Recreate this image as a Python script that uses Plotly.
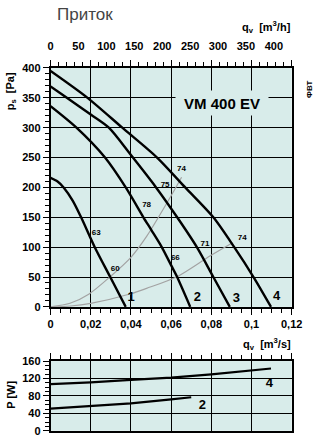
import plotly.graph_objects as go

W, H = 325, 441
BG = "#d8ecea"
FONT = "Liberation Sans"

# ---------------- data ----------------
# fan curves: q_v [m3/s] vs p_s [Pa]
c1_q = [0, 0.0035, 0.0065, 0.011, 0.0152, 0.022, 0.0297, 0.0374]
c1_p = [216, 210, 200, 178, 150, 100, 50, 0]
c2_q = [0, 0.0129, 0.0271, 0.0374, 0.0462, 0.0501, 0.0552, 0.0601, 0.0627, 0.0695]
c2_p = [336, 300, 250, 200, 150, 129, 101, 69, 52, 0]
c3_q = [0, 0.0081, 0.02, 0.029, 0.0398, 0.0525, 0.063, 0.0728, 0.081, 0.0892]
c3_p = [369, 350, 322, 300, 255, 200, 150, 100, 50, 0]
c4_q = [0, 0.0184, 0.0357, 0.053, 0.067, 0.081, 0.0914, 0.101, 0.1097]
c4_p = [395, 350, 300, 250, 200, 150, 100, 50, 0]

# system (efficiency) curves, grey
gA_q = [0, 0.0097, 0.0192, 0.0295, 0.04, 0.0478, 0.06, 0.0652]
gA_p = [0, 6, 21.7, 50, 83, 118, 186, 217]
gB_q = [0, 0.01, 0.02, 0.04, 0.0478, 0.0629, 0.0795, 0.0906]
gB_p = [0, 1.5, 6, 22, 31, 50.5, 85.7, 107.5]

# efficiency labels
eff_text = ["63", "60", "78", "75", "74", "66", "71", "74"]
eff_q = [0.0227, 0.0322, 0.0478, 0.0570, 0.0652, 0.0621, 0.0768, 0.0954]
eff_p = [124, 63, 170, 204, 230, 81, 106, 116]

# curve numbers
num_text = ["1", "2", "3", "4"]
num_q = [0.0401, 0.0731, 0.0925, 0.1125]
num_p = [15, 15, 13.5, 17]

# power curves: q_v [m3/s] vs P [W]
pw4_q = [0, 0.02, 0.04, 0.06, 0.08, 0.1, 0.1097]
pw4_P = [107, 111, 117, 122, 129.5, 138, 143]
pw2_q = [0, 0.02, 0.04, 0.06, 0.07]
pw2_P = [51, 57, 63, 72, 77]
pw_lab_text = ["4", "2"]
pw_lab_q = [0.1089, 0.0755]
pw_lab_P = [108, 57]

# axes
x_ticks = [0, 0.02, 0.04, 0.06, 0.08, 0.1, 0.12]
x_ticktext = ["0", "0,02", "0,04", "0,06", "0,08", "0,1", "0,12"]
xh_ticks = [0, 50, 100, 150, 200, 250, 300, 350, 400]

# ---------------- layout geometry ----------------
def px_x(p):
    return p / W
def px_y(p):
    return 1 - p / H

XD = [px_x(49.7), px_x(301.7)]
YD_MAIN = [px_y(309.3), px_y(63.7)]
YD_POW = [px_y(436.7), px_y(365)]

fig = go.Figure()

def curve(q, p, xa, ya, color, width):
    fig.add_trace(go.Scatter(x=q, y=p, mode="lines", xaxis=xa, yaxis=ya,
                             line=dict(color=color, width=width, shape="spline", smoothing=0.8),
                             hoverinfo="skip", showlegend=False))

curve(gA_q, gA_p, "x", "y", "#a3a3a3", 1.2)
curve(gB_q, gB_p, "x", "y", "#a3a3a3", 1.2)
for q, p in [(c1_q, c1_p), (c2_q, c2_p), (c3_q, c3_p), (c4_q, c4_p)]:
    curve(q, p, "x", "y", "black", 2.4)

fig.add_trace(go.Scatter(x=eff_q, y=eff_p, text=eff_text, mode="text", xaxis="x", yaxis="y",
                         textfont=dict(family=FONT, size=8, color="black", weight="bold"),
                         hoverinfo="skip", showlegend=False))
fig.add_trace(go.Scatter(x=num_q, y=num_p, text=num_text, mode="text", xaxis="x", yaxis="y",
                         textfont=dict(family=FONT, size=13, color="black", weight="bold"),
                         hoverinfo="skip", showlegend=False))

for q, P in [(pw4_q, pw4_P), (pw2_q, pw2_P)]:
    fig.add_trace(go.Scatter(x=q, y=P, mode="lines", xaxis="x4", yaxis="y2",
                             line=dict(color="black", width=2.2),
                             hoverinfo="skip", showlegend=False))
fig.add_trace(go.Scatter(x=pw_lab_q, y=pw_lab_P, text=pw_lab_text, mode="text", xaxis="x4", yaxis="y2",
                         textfont=dict(family=FONT, size=13, color="black", weight="bold"),
                         hoverinfo="skip", showlegend=False))

# dummy traces to activate overlay axes
fig.add_trace(go.Scatter(x=[None], y=[None], xaxis="x2", yaxis="y", showlegend=False, hoverinfo="skip"))
fig.add_trace(go.Scatter(x=[None], y=[None], xaxis="x3", yaxis="y", showlegend=False, hoverinfo="skip"))

tickfont = dict(family=FONT, size=11, color="black", weight="bold")

fig.update_layout(
    width=W, height=H, margin=dict(l=0, r=0, t=0, b=0),
    paper_bgcolor="white", plot_bgcolor=BG, showlegend=False,
    separators=", ",
    xaxis=dict(domain=XD, range=[0, 0.12], anchor="y", tickvals=x_ticks, ticktext=x_ticktext,
               ticks="outside", ticklen=6, tickwidth=1.3, tickcolor="black",
               minor=dict(dtick=0.005, tick0=0, ticks="outside", ticklen=4, tickcolor="black", showgrid=False),
               showgrid=True, gridcolor="black", gridwidth=1.3, showline=True, linecolor="black",
               linewidth=1.5, zeroline=False, tickfont=tickfont, fixedrange=True),
    xaxis2=dict(domain=XD, range=[0, 0.12], anchor="y", overlaying="x", side="top",
                dtick=0.02, tick0=0, ticks="outside", ticklen=6, tickwidth=1.3, tickcolor="black",
                minor=dict(dtick=0.004, tick0=0, ticks="outside", ticklen=4, tickcolor="black", showgrid=False),
                showticklabels=False, showgrid=False, showline=True, linecolor="black", linewidth=1.5,
                zeroline=False),
    xaxis3=dict(domain=XD, range=[0, 0.12 * 3600], anchor="y", overlaying="x", side="top",
                tickvals=xh_ticks, ticks="outside", ticklen=13, tickcolor="rgba(0,0,0,0)",
                showgrid=False, showline=False, zeroline=False, tickfont=tickfont),
    yaxis=dict(domain=YD_MAIN, range=[0, 400], anchor="x", dtick=50, tick0=0,
               ticks="outside", ticklen=6, tickwidth=1.3, tickcolor="black",
               minor=dict(dtick=10, tick0=0, ticks="outside", ticklen=4, tickcolor="black", showgrid=False),
               showgrid=True, gridcolor="black", gridwidth=1.3, showline=True, mirror=True,
               linecolor="black", linewidth=1.5, zeroline=False, tickfont=tickfont),
    xaxis4=dict(domain=XD, range=[0, 0.12], anchor="y2", side="top", dtick=0.02, tick0=0,
                ticks="outside", ticklen=6, tickwidth=1.3, tickcolor="black",
                minor=dict(dtick=0.005, tick0=0, ticks="outside", ticklen=4, tickcolor="black", showgrid=False),
                showticklabels=False, showgrid=True, gridcolor="black", gridwidth=1.3,
                showline=True, mirror=True, linecolor="black", linewidth=1.5, zeroline=False),
    yaxis2=dict(domain=YD_POW, range=[0, 160], anchor="x4", dtick=40, tick0=0,
                ticks="outside", ticklen=6, tickwidth=1.3, tickcolor="black",
                minor=dict(dtick=10, tick0=0, ticks="outside", ticklen=4, tickcolor="black", showgrid=False),
                showgrid=True, gridcolor="black", gridwidth=1.3, showline=True, mirror=True,
                linecolor="black", linewidth=1.5, zeroline=False, tickfont=tickfont),
)

bold = dict(family=FONT, size=11, color="black", weight="bold")
fig.add_annotation(text="Приток", xref="paper", yref="paper", x=px_x(54), y=px_y(9),
                   xanchor="left", yanchor="middle", showarrow=False,
                   font=dict(family=FONT, size=17, color="#444444"))
fig.add_annotation(text="q<sub>v</sub>  [m<sup>3</sup>/h]", xref="paper", yref="paper",
                   x=px_x(303), y=px_y(22), xanchor="right", yanchor="middle", showarrow=False, font=bold)
fig.add_annotation(text="q<sub>v</sub>  [m<sup>3</sup>/s]", xref="paper", yref="paper",
                   x=px_x(303), y=px_y(347), xanchor="right", yanchor="middle", showarrow=False, font=bold)
fig.add_annotation(text="p<sub>s</sub>  [Pa]", xref="paper", yref="paper", x=px_x(8), y=px_y(88),
                   textangle=-90, xanchor="center", yanchor="middle", showarrow=False, font=bold)
fig.add_annotation(text="P [W]", xref="paper", yref="paper", x=px_x(8), y=px_y(400),
                   textangle=-90, xanchor="center", yanchor="middle", showarrow=False, font=bold)
fig.add_annotation(text="ФВТ", xref="paper", yref="paper", x=px_x(320), y=px_y(86),
                   textangle=-90, xanchor="center", yanchor="middle", showarrow=False,
                   font=dict(family=FONT, size=8, color="black", weight="bold"))
fig.add_annotation(text="VM 400 EV", xref="x", yref="y", x=0.0851, y=341,
                   showarrow=False, bgcolor=BG, width=92, height=24, borderpad=0, align="center",
                   font=dict(family=FONT, size=15, color="black", weight="bold"))

fig.write_html("out.html")
